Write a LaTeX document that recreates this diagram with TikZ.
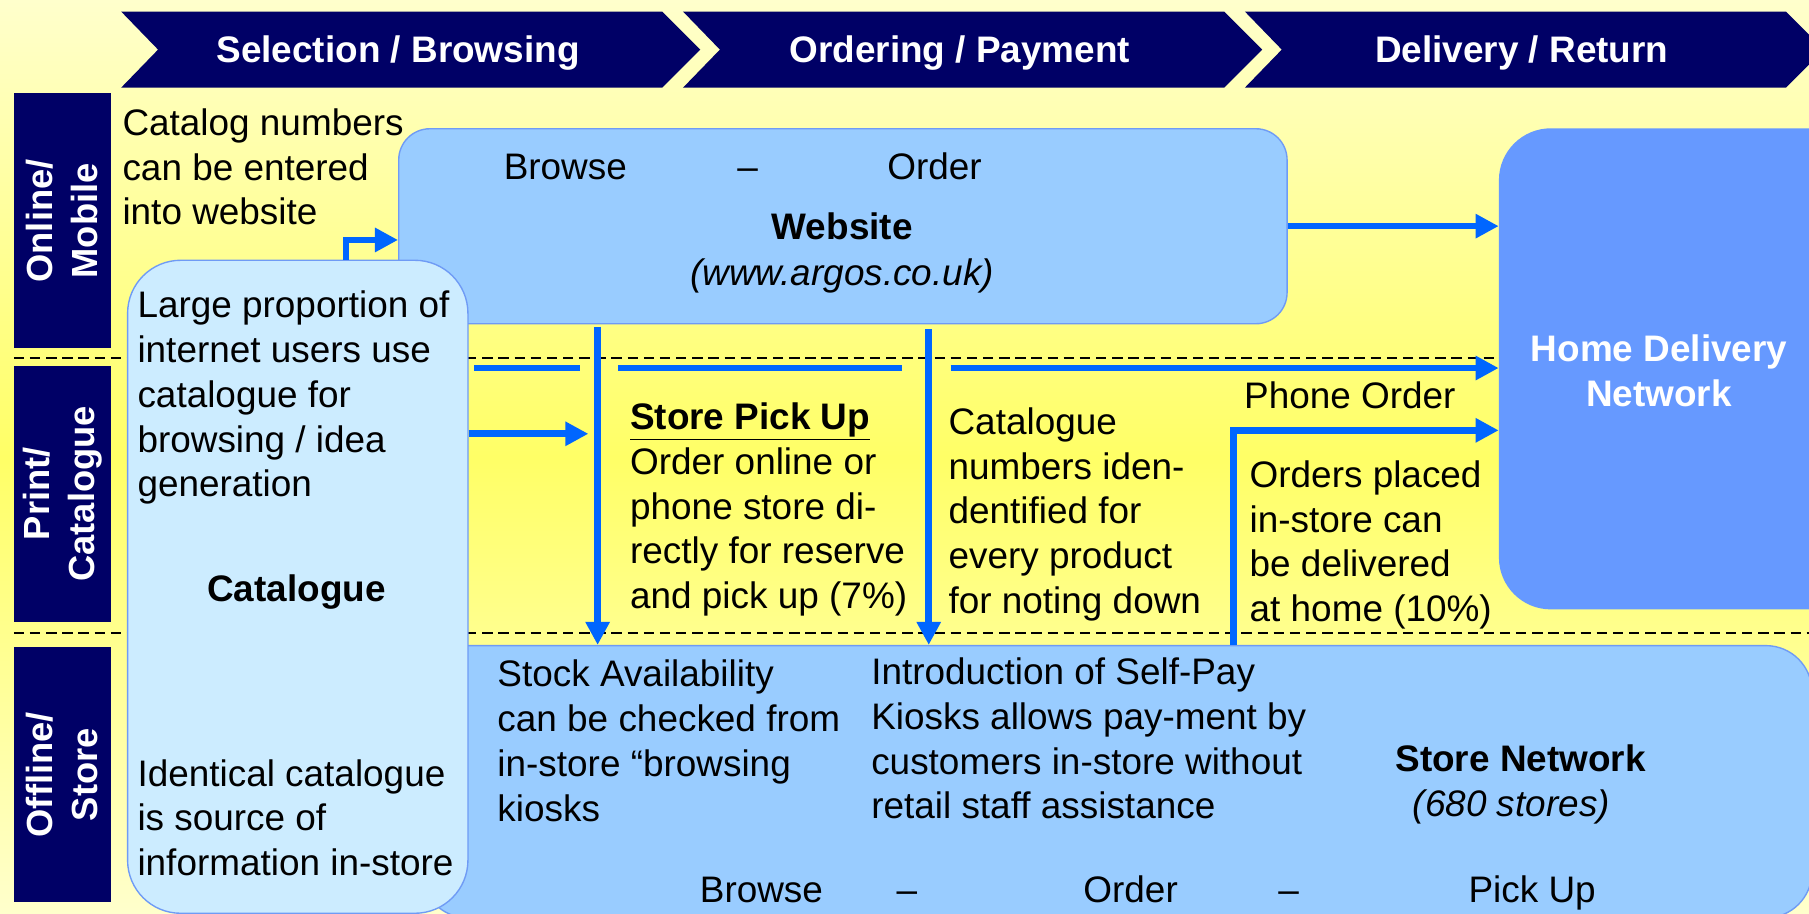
\documentclass[tikz,border=0pt]{standalone}
\usepackage{fontspec}
\setmainfont{Liberation Sans}
\usetikzlibrary{arrows.meta}
\definecolor{navy}{HTML}{000066}
\definecolor{arrowblue}{HTML}{0066FF}
\definecolor{boxblue}{HTML}{99CCFF}
\definecolor{lightbox}{HTML}{CCECFF}
\definecolor{hdblue}{HTML}{6699FF}
\definecolor{boxedge}{HTML}{6F9BF5}
\definecolor{paletop}{HTML}{FFFFCC}
\definecolor{palebot}{HTML}{FFFFCC}
\definecolor{midyellow}{HTML}{FFFF66}
\begin{document}
\begin{tikzpicture}[x=1pt,y=-1pt,
  body/.style={font=\fontsize{32}{38.8}\selectfont, inner sep=0pt, align=left, anchor=north west},
  lbl/.style={font=\fontsize{32}{38.8}\selectfont, inner sep=0pt, anchor=base},
  hdr/.style={font=\fontsize{32}{38.8}\selectfont\bfseries, text=white, inner sep=0pt, anchor=base},
  rowlbl/.style={fill=navy, text=white, font=\fontsize{31.5}{39}\selectfont\bfseries, align=center, rotate=90, inner sep=0pt, minimum height=84pt},
  flow/.style={draw=arrowblue, line width=5.8pt, -{Triangle[length=20pt,width=20pt]}},
  plain/.style={draw=arrowblue, line width=5.8pt},
  sep/.style={draw=black, line width=1.7pt, dash pattern=on 9pt off 5pt},
  chevron/.pic={\fill[navy] (0,0) -- (469,0) -- (502,33) -- (469,66) -- (0,66) -- (32,33) -- cycle;}
]
\path[use as bounding box] (0,0) rectangle (1568,792);
\clip (0,0) rectangle (1568,792);
\shade[top color=paletop, bottom color=palebot, middle color=midyellow] (0,0) rectangle (1568,792);

% separators
\draw[sep] (12,310) -- (1568,310);
\draw[sep] (12,549) -- (1568,549);

% header chevrons
\pic at (105,10) {chevron};
\pic at (592,10) {chevron};
\pic at (1079,10) {chevron};
\node[hdr] (h1) at (345,54.5) {Selection / Browsing};
\node[hdr] (h2) at (832,54.5) {Ordering / Payment};
\node[hdr] (h3) at (1319,54.5) {Delivery / Return};

% row labels
\node[rowlbl, minimum width=221pt] (r1) at (54,191.5) {Online/\\Mobile};
\node[rowlbl, minimum width=222pt] (r2) at (54,428) {Print/\\Catalogue};
\node[rowlbl, minimum width=221pt] (r3) at (54,671.5) {Offline/\\Store};

% boxes
\node[draw=boxedge, fill=boxblue, line width=1.2pt, rounded corners=40pt, anchor=north west, inner sep=0pt, minimum width=1205pt, minimum height=236pt] (store) at (365,559) {};
\node[draw=boxedge, fill=boxblue, line width=1.2pt, rounded corners=27pt, anchor=north west, inner sep=0pt, minimum width=770pt, minimum height=169pt] (web) at (345,111) {};
\node[draw=boxedge, fill=lightbox, line width=1.2pt, rounded corners=46pt, anchor=north west, inner sep=0pt, minimum width=295pt, minimum height=566pt] (cat) at (110,225) {};
\node[fill=hdblue, rounded corners=45pt, anchor=north west, inner sep=0pt, minimum width=330pt, minimum height=417pt] (hd) at (1299,111) {};

% helper coordinates
\coordinate (y208) at (0,208);
\coordinate (y196) at (0,196);
\coordinate (y319) at (0,319);
\coordinate (y373) at (0,373);
\coordinate (y376) at (0,376);
\coordinate (x300) at (300,0);
\coordinate (x518) at (518,0);
\coordinate (x805) at (805,0);
\coordinate (x1069) at (1069,0);
\coordinate (g1a) at (411,319);
\coordinate (g1b) at (503,319);
\coordinate (g2a) at (536,319);
\coordinate (g2b) at (782,319);
\coordinate (g3a) at (824,319);
\coordinate (pick) at (510,376);

% arrows
\draw[flow] (cat.north -| x300) |- (web.west |- y208);
\draw[flow] (web.east |- y196) -- (hd.west |- y196);
\draw[flow] ([yshift=-2pt]web.south -| x518) -- (store.north -| x518);
\draw[flow] ([yshift=-4pt]web.south -| x805) -- (store.north -| x805);
\draw[plain] (g1a) -- (g1b);
\draw[plain] (g2a) -- (g2b);
\draw[flow] (g3a) -- (hd.west |- y319);
\draw[flow] (cat.east |- y376) -- (pick);
\draw[flow] (store.north -| x1069) |- (hd.west |- y373);

% website texts
\node[lbl] (wb) at (490,155.5) {Browse};
\node[lbl] (wd) at (648,155.5) {–};
\node[lbl] (wo) at (810,155.5) {Order};
\node[lbl, font=\fontsize{32}{38.8}\selectfont\bfseries] (wt) at (730,207.5) {Website};
\node[lbl, font=\fontsize{32}{38.8}\selectfont\itshape] (wu) at (730,247.5) {(www.argos.co.uk)};

% free texts
\node[body] (t1) at (106,94) {Catalog numbers\\can be entered\\into website};
\node[body] (t2) at (119,252) {Large proportion of\\internet users use\\catalogue for\\browsing / idea\\generation};
\node[lbl, font=\fontsize{32}{38.8}\selectfont\bfseries] (t3) at (257,521.5) {Catalogue};
\node[body] (t4) at (119,658) {Identical catalogue\\is source of\\information in-store};
\node[body] (t5) at (546,349) {\textbf{\underline{Store Pick Up}}\\Order online or\\phone store di-\\rectly for reserve\\and pick up (7\%)};
\node[body] (t6) at (822,353) {Catalogue\\numbers iden-\\dentified for\\every product\\for noting down};
\node[lbl] (t7) at (1170,354.5) {Phone Order};
\node[body] (t8) at (1083,399) {Orders placed\\in-store can\\be delivered\\at home (10\%)};
\node[font=\fontsize{32}{38.8}\selectfont\bfseries, text=white, align=center, inner sep=0pt, anchor=north] (t9) at (1438,290) {Home Delivery\\Network};

% store texts
\node[body] (s1) at (431,572) {Stock Availability\\can be checked from\\in-store “browsing\\kiosks};
\node[body] (s2) at (755,570) {Introduction of Self-Pay\\Kiosks allows pay-ment by\\customers in-store without\\retail staff assistance};
\node[lbl, font=\fontsize{32}{38.8}\selectfont\bfseries] (s3) at (1318,668.5) {Store Network};
\node[lbl, font=\fontsize{32}{38.8}\selectfont\itshape] (s4) at (1310,707.5) {(680 stores)};
\node[lbl] (b1) at (660,782.5) {Browse};
\node[lbl] (b2) at (786,782.5) {–};
\node[lbl] (b3) at (980,782.5) {Order};
\node[lbl] (b4) at (1117,782.5) {–};
\node[lbl] (b5) at (1328,782.5) {Pick Up};
\end{tikzpicture}
\end{document}
